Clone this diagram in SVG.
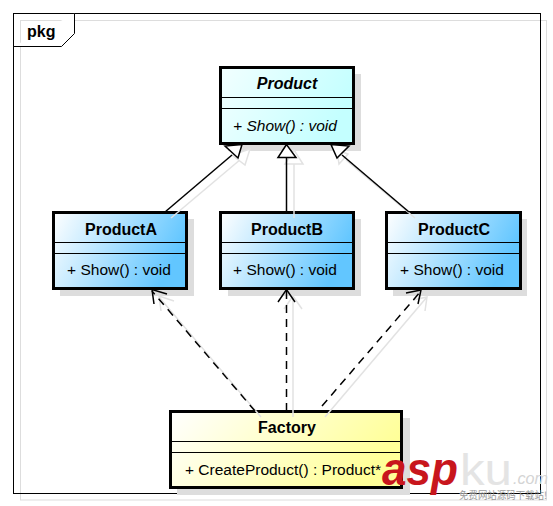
<svg xmlns="http://www.w3.org/2000/svg" width="553" height="506" viewBox="0 0 553 506">
<style>
text{font-family:"Liberation Sans",Arial,sans-serif;fill:#000}
.title{font-size:16px;font-weight:bold;text-anchor:middle}
.op{font-size:15.500px;text-anchor:middle}
.box{stroke:#000;stroke-width:3}
.div{stroke:#000;stroke-width:1;fill:none}
.sh{fill:#ddd}
.line{stroke:#000;stroke-width:1.5;fill:none}
.dash{stroke:#000;stroke-width:1.5;fill:none;stroke-dasharray:8 6}
.gs{stroke:#e2e2e2;stroke-width:1.5;fill:none}
.tri{stroke:#000;stroke-width:1.5;fill:#fff}
.gtri{stroke:#e2e2e2;stroke-width:1.5;fill:#fff}
</style>
<defs>
<linearGradient id="c" x1="0" y1="0" x2="1" y2="0.3"><stop offset="0" stop-color="#f2ffff"/><stop offset="1" stop-color="#c4ffff"/></linearGradient>
<linearGradient id="b" x1="0" y1="0" x2="1" y2="0.3"><stop offset="0" stop-color="#fff"/><stop offset="1" stop-color="#62c6ff"/></linearGradient>
<linearGradient id="y" x1="0" y1="0" x2="1" y2="0.3"><stop offset="0" stop-color="#fff"/><stop offset="1" stop-color="#ffff99"/></linearGradient>
</defs>
<rect width="553" height="506" fill="#fff"/>
<g id="frame">
<rect x="20.500" y="20.500" width="526" height="479.500" fill="none" stroke="#ddd" stroke-width="1"/>
<rect x="13.500" y="13.500" width="527" height="480" fill="none" stroke="#000" stroke-width="1"/>
<path d="M13.500 46.500H61.500L74.500 33.500V13.500" fill="#fff" stroke="#000" stroke-width="1"/>
<text x="27" y="37" font-size="16" font-weight="bold">pkg</text>
</g>
<g id="product">
<rect class="sh" x="228" y="74" width="133" height="77"/>
<rect class="box" x="220.500" y="67.500" width="133" height="76" fill="url(#c)"/>
<path class="div" d="M222 97.500H352M222 108.500H352"/>
<text class="title" x="287" y="88.500" font-style="italic">Product</text>
<text class="op" x="285" y="130.500" font-style="italic">+ Show() : void</text>
</g>
<g id="productA">
<rect class="sh" x="60" y="219" width="134" height="77"/>
<rect class="box" x="53.500" y="212.500" width="133" height="76" fill="url(#b)"/>
<path class="div" d="M55 242.500H185M55 253.500H185"/>
<text class="title" x="121" y="234.500">ProductA</text>
<text class="op" x="119" y="275">+ Show() : void</text>
</g>
<g id="productB">
<rect class="sh" x="228" y="219" width="133" height="77"/>
<rect class="box" x="220.500" y="212.500" width="133" height="76" fill="url(#b)"/>
<path class="div" d="M222 242.500H352M222 253.500H352"/>
<text class="title" x="287" y="234.500">ProductB</text>
<text class="op" x="285" y="275">+ Show() : void</text>
</g>
<g id="productC">
<rect class="sh" x="393" y="219" width="134" height="77"/>
<rect class="box" x="386.500" y="212.500" width="134" height="76" fill="url(#b)"/>
<path class="div" d="M388 242.500H519M388 253.500H519"/>
<text class="title" x="454" y="234.500">ProductC</text>
<text class="op" x="452" y="275">+ Show() : void</text>
</g>
<g id="factory">
<rect class="sh" x="177" y="418" width="233" height="77"/>
<rect class="box" x="170.500" y="411.500" width="231" height="76" fill="url(#y)"/>
<path class="div" d="M172 441.500H400M172 452.500H400"/>
<text class="title" x="287" y="433">Factory</text>
<text class="op" x="283" y="474.500">+ CreateProduct() : Product*</text>
</g>
<g id="connectors">
<g>
<path class="gs" d="M171 218L241 159"/><path class="gtri" d="M250 149L232 155L245 165Z"/>
<path class="gs" d="M294 218V164"/><path class="gtri" d="M294 150L285 164H303Z"/>
<path class="gs" d="M415 218L346 160"/><path class="gtri" d="M337 150L339 164L348 154Z"/>
<path class="gs" d="M261 417L159 297M161 311L159 296L174 301"/>
<path class="gs" d="M293 417V297M284 309L293 296L302 309"/>
<path class="gs" d="M325 417L427 297M425 311L427 297L413 300"/>
</g>
<path class="line" d="M165 212L232 155"/><path class="tri" d="M242 144.500L225 146L238 158Z"/>
<path class="line" d="M286.500 212V157"/><path class="tri" d="M286.500 144.500L278 157.500H296Z"/>
<path class="line" d="M409 212L342 155"/><path class="tri" d="M331 144.500L349 146L337 158Z"/>
<path class="dash" d="M255 411L152 291"/><path class="line" d="M154 304L152 289.500L167 294"/>
<path class="dash" d="M286.500 411V291"/><path class="line" d="M278 302L286.500 289.500L295 302"/>
<path class="dash" d="M322 406L421 291"/><path class="line" d="M418 304L421 290L406 293"/>
</g>
<g id="watermark">
<text x="382" y="485" font-size="47" font-weight="bold" font-style="italic" style="fill:#c8161d" textLength="76" lengthAdjust="spacingAndGlyphs">asp</text>
<text x="460" y="485" font-size="45" style="fill:#e4e4e4" textLength="52" lengthAdjust="spacingAndGlyphs">ku</text>
<text x="513" y="484" font-size="16" font-style="italic" style="fill:#d4d4d4" textLength="35" lengthAdjust="spacingAndGlyphs">.com</text>
<text x="459" y="499" font-size="10" style="fill:#9a9a9a;font-family:'Noto Sans CJK SC',sans-serif" textLength="88" lengthAdjust="spacingAndGlyphs">免费网站源码下载站!</text>
</g>
</svg>
